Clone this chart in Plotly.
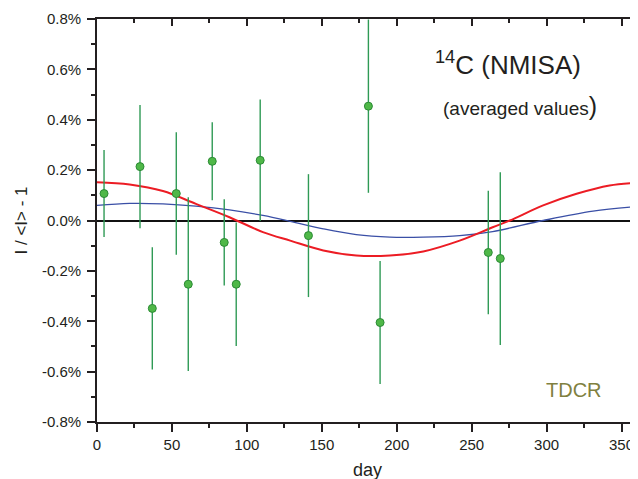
import plotly.graph_objects as go

# ---- data ----
days = [4.7, 28.7, 36.9, 52.9, 60.9, 76.9, 84.9, 92.9, 108.9, 141.1, 181.1, 188.9, 261.1, 269.1]
values = [0.107, 0.214, -0.349, 0.107, -0.253, 0.235, -0.087, -0.253, 0.239, -0.060, 0.454, -0.405, -0.127, -0.151]
errors = [0.173, 0.245, 0.243, 0.243, 0.345, 0.155, 0.171, 0.245, 0.241, 0.244, 0.344, 0.244, 0.245, 0.343]

red_days = [0, 21.8, 44, 66, 88.4, 110.7, 128.9, 151, 173, 195.5, 217.7, 242, 264, 275.5, 297.7, 320, 342, 361]
red_vals = [0.152, 0.143, 0.117, 0.066, 0.013, -0.046, -0.080, -0.119, -0.139, -0.139, -0.123, -0.080, -0.027, 0.0, 0.060, 0.106, 0.139, 0.150]

blue_days = [0, 21.8, 44, 66, 88.4, 110.7, 128.9, 151, 173, 195.5, 217.7, 242, 264, 297.7, 331, 361]
blue_vals = [0.060, 0.068, 0.066, 0.057, 0.042, 0.020, -0.003, -0.033, -0.056, -0.066, -0.066, -0.060, -0.044, 0.0, 0.037, 0.056]

x_ticks = [0, 50, 100, 150, 200, 250, 300, 350]
y_ticks = [-0.8, -0.6, -0.4, -0.2, 0.0, 0.2, 0.4, 0.6, 0.8]
y_tick_labels = ["-0.8%", "-0.6%", "-0.4%", "-0.2%", "0.0%", "0.2%", "0.4%", "0.6%", "0.8%"]

FONT = "Liberation Sans, Arial, sans-serif"
TXT = "#231f20"

fig = go.Figure()

fig.add_trace(go.Scatter(
    x=blue_days, y=blue_vals, mode="lines", line=dict(color="#3a4fa6", width=1.3, shape="spline"),
    showlegend=False, hoverinfo="skip"))
fig.add_trace(go.Scatter(
    x=red_days, y=red_vals, mode="lines", line=dict(color="#ec1c24", width=2, shape="spline"),
    showlegend=False, hoverinfo="skip"))
fig.add_trace(go.Scatter(
    x=days, y=values, mode="markers",
    marker=dict(size=8, color="#4fb848", line=dict(color="#2b8a35", width=1)),
    error_y=dict(type="data", array=errors, visible=True, color="#2f9a55", thickness=1.4, width=0),
    showlegend=False, cliponaxis=True))

# overlay axes for inward ticks on top / right
fig.add_trace(go.Scatter(x=[None], y=[None], xaxis="x2", yaxis="y2", showlegend=False))

xr = [0, 361]
yr = [-0.8, 0.8]

# the page body has an 8px margin, so the figure is sized / offset to compensate
fig.update_layout(
    width=630, height=471,
    margin=dict(l=89, r=0, t=11, b=57, autoexpand=False),
    paper_bgcolor="white", plot_bgcolor="white",
    font=dict(family=FONT, color=TXT, size=15),
    xaxis=dict(
        range=xr, tickmode="array", tickvals=x_ticks, automargin=False,
        ticks="outside", ticklen=8, tickwidth=1.5, tickcolor="#231f20",
        minor=dict(tickmode="linear", tick0=0, dtick=25, ticks="outside", ticklen=4, tickwidth=1.5, tickcolor="#231f20"),
        showline=True, linecolor="#231f20", linewidth=1.8,
        showgrid=False, zeroline=False,
        tickfont=dict(size=15, family=FONT, color=TXT),
    ),
    yaxis=dict(
        range=yr, tickmode="array", tickvals=y_ticks, ticktext=y_tick_labels, automargin=False,
        ticks="outside", ticklen=8, tickwidth=1.5, tickcolor="#231f20",
        minor=dict(tickmode="linear", tick0=0, dtick=0.1, ticks="outside", ticklen=4.5, tickwidth=1.5, tickcolor="#231f20"),
        showline=True, linecolor="#231f20", linewidth=1.8,
        showgrid=False, zeroline=True, zerolinecolor="#111111", zerolinewidth=1.6,
        tickfont=dict(size=15, family=FONT, color=TXT),
        ticklabelstandoff=3,
        title=dict(text="I / &lt;I&gt; - 1", font=dict(size=17, family=FONT, color=TXT), standoff=10),
    ),
    xaxis2=dict(
        range=xr, overlaying="x", side="top", anchor="y", automargin=False,
        tickmode="array", tickvals=x_ticks, showticklabels=False,
        ticks="inside", ticklen=7.5, tickwidth=1.5, tickcolor="#231f20",
        minor=dict(tickmode="linear", tick0=0, dtick=25, ticks="inside", ticklen=4.5, tickwidth=1.5, tickcolor="#231f20"),
        showline=True, linecolor="#231f20", linewidth=1.8, showgrid=False, zeroline=False,
    ),
    yaxis2=dict(
        range=yr, overlaying="y", side="right", anchor="x", automargin=False,
        tickmode="array", tickvals=y_ticks, showticklabels=False,
        ticks="inside", ticklen=5, tickwidth=1.3, tickcolor="#231f20",
        showline=False, showgrid=False, zeroline=False,
    ),
    annotations=[
        dict(x=0.5, y=0, xref="paper", yref="paper", yshift=-48, yanchor="middle", showarrow=False,
             text="day", font=dict(size=18, family=FONT, color=TXT)),
        dict(x=274, y=0.625, xref="x", yref="y", showarrow=False,
             text="<sup>14</sup>C (NMISA)", font=dict(size=26, family=FONT, color=TXT)),
        dict(x=282, y=0.455, xref="x", yref="y", showarrow=False,
             text="(averaged values<span style='font-size:25px'>)</span>",
             font=dict(size=19, family=FONT, color=TXT)),
        dict(x=318.5, y=-0.672, xref="x", yref="y", showarrow=False,
             text="TDCR", font=dict(size=20, family=FONT, color="#808040")),
    ],
)

fig.write_html("out.html")
